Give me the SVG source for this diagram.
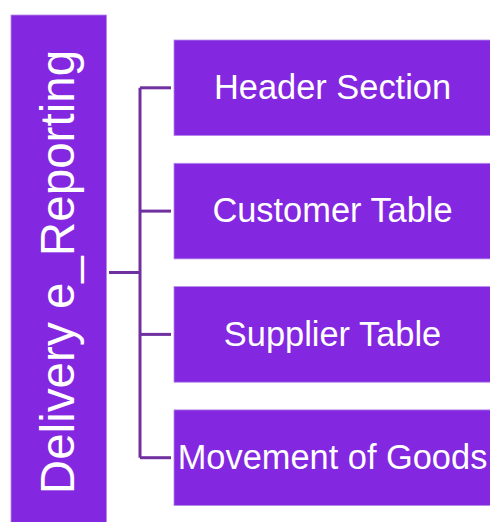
<svg xmlns="http://www.w3.org/2000/svg" width="490" height="522" viewBox="0 0 490 522">
  <style>
    .box { fill: #8427E0; stroke: #B48AE8; stroke-width: 0.8; }
    .lbl { font-family: "Liberation Sans", Arial, sans-serif; font-size: 34.4px; fill: #FFFFFF; text-anchor: middle; }
    .root { font-family: "Liberation Sans", Arial, sans-serif; font-size: 47.6px; fill: #FFFFFF; text-anchor: middle; }
    .conn { fill: none; stroke: #7030A0; stroke-width: 3; }
  </style>
  <rect width="490" height="522" fill="#FFFFFF"/>
  <g id="connectors">
    <path class="conn" d="M109,272.5 H140"/>
    <path class="conn" d="M140,87.8 V457.7"/>
    <path class="conn" d="M140,87.8 H171"/>
    <path class="conn" d="M140,211.1 H171"/>
    <path class="conn" d="M140,334.4 H171"/>
    <path class="conn" d="M140,457.7 H171"/>
  </g>
  <g id="root">
    <rect class="box" x="11" y="15" width="95.5" height="508"/>
    <text class="root" transform="translate(73.5,272) rotate(-90)">Delivery e_Reporting</text>
  </g>
  <g id="header-section">
    <rect class="box" x="174" y="40" width="317" height="95.6"/>
    <text class="lbl" x="332.5" y="99.3">Header Section</text>
  </g>
  <g id="customer-table">
    <rect class="box" x="174" y="163.3" width="317" height="95.6"/>
    <text class="lbl" x="332.5" y="222.4">Customer Table</text>
  </g>
  <g id="supplier-table">
    <rect class="box" x="174" y="286.6" width="317" height="95.6"/>
    <text class="lbl" x="332.5" y="345.7">Supplier Table</text>
  </g>
  <g id="movement-of-goods">
    <rect class="box" x="174" y="409.9" width="317" height="95.6"/>
    <text class="lbl" x="332.5" y="469">Movement of Goods</text>
  </g>
</svg>
